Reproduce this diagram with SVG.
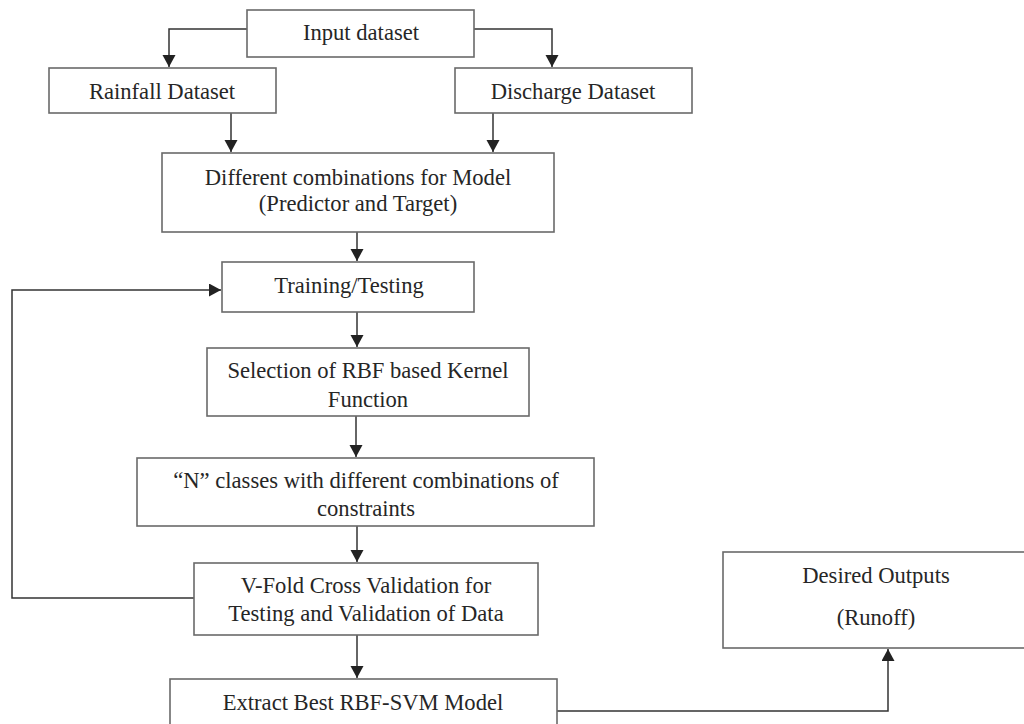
<svg xmlns="http://www.w3.org/2000/svg" width="1024" height="724" viewBox="0 0 1024 724">
  <style>
    .box { fill: #ffffff; stroke: #6a6a6a; stroke-width: 1.6; }
    .lbl { font-family: "Liberation Serif", "Times New Roman", serif; font-size: 22.6px; fill: #262626; text-anchor: middle; }
    .conn { fill: none; stroke: #333333; stroke-width: 1.5; }
  </style>
  <defs>
    <marker id="arrow" markerUnits="userSpaceOnUse" markerWidth="13" markerHeight="14" refX="12" refY="6.5" orient="auto">
      <path d="M0,0 L12,6.5 L0,13 z" fill="#222222"/>
    </marker>
  </defs>
  <rect x="0" y="0" width="1024" height="724" fill="#ffffff"/>

  <g id="connectors">
    <path class="conn" d="M247,29 H169 V67" marker-end="url(#arrow)"/>
    <path class="conn" d="M474,29 H552 V67" marker-end="url(#arrow)"/>
    <path class="conn" d="M231,113 V152" marker-end="url(#arrow)"/>
    <path class="conn" d="M493,113 V152" marker-end="url(#arrow)"/>
    <path class="conn" d="M357,232 V261" marker-end="url(#arrow)"/>
    <path class="conn" d="M357,312 V347" marker-end="url(#arrow)"/>
    <path class="conn" d="M356,416 V457" marker-end="url(#arrow)"/>
    <path class="conn" d="M357,526 V562" marker-end="url(#arrow)"/>
    <path class="conn" d="M357,635 V678" marker-end="url(#arrow)"/>
    <path class="conn" d="M557,711 H888 V649" marker-end="url(#arrow)"/>
    <path class="conn" d="M194,598 H12 V290 H221" marker-end="url(#arrow)"/>
  </g>

  <g id="input">
    <rect class="box" x="247" y="10" width="227" height="47"/>
    <text class="lbl" x="361" y="40">Input dataset</text>
  </g>
  <g id="rainfall">
    <rect class="box" x="49" y="68" width="227" height="45"/>
    <text class="lbl" x="162" y="98.5">Rainfall Dataset</text>
  </g>
  <g id="discharge">
    <rect class="box" x="455" y="68" width="237" height="45"/>
    <text class="lbl" x="573" y="98.5">Discharge Dataset</text>
  </g>
  <g id="combinations">
    <rect class="box" x="162" y="153" width="392" height="79"/>
    <text class="lbl" x="358" y="185">Different combinations for Model</text>
    <text class="lbl" x="358" y="211">(Predictor and Target)</text>
  </g>
  <g id="training">
    <rect class="box" x="222" y="262" width="252" height="50"/>
    <text class="lbl" x="349" y="293">Training/Testing</text>
  </g>
  <g id="selection">
    <rect class="box" x="207" y="348" width="322" height="68"/>
    <text class="lbl" x="368" y="378">Selection of RBF based Kernel</text>
    <text class="lbl" x="368" y="407">Function</text>
  </g>
  <g id="nclasses">
    <rect class="box" x="137" y="458" width="457" height="68"/>
    <text class="lbl" x="366" y="488">“N” classes with different combinations of</text>
    <text class="lbl" x="366" y="516">constraints</text>
  </g>
  <g id="vfold">
    <rect class="box" x="194" y="563" width="344" height="72"/>
    <text class="lbl" x="366" y="593">V-Fold Cross Validation for</text>
    <text class="lbl" x="366" y="621">Testing and Validation of Data</text>
  </g>
  <g id="extract">
    <rect class="box" x="170" y="679" width="387" height="60"/>
    <text class="lbl" x="363" y="710">Extract Best RBF-SVM Model</text>
  </g>
  <g id="desired">
    <rect class="box" x="723" y="552" width="306" height="96"/>
    <text class="lbl" x="876" y="583">Desired Outputs</text>
    <text class="lbl" x="876" y="625">(Runoff)</text>
  </g>
</svg>
